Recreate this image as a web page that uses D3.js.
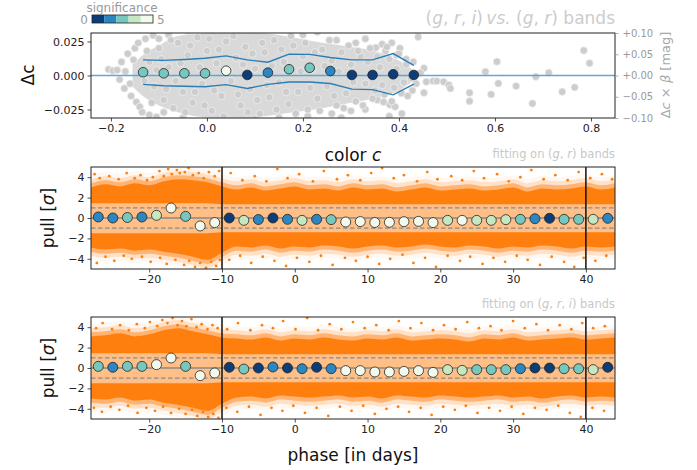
<!DOCTYPE html>
<html><head><meta charset="utf-8">
<script src="https://cdn.jsdelivr.net/npm/d3@7"></script>
<style>body{margin:0;background:#fff} text{font-family:"DejaVu Sans",sans-serif}</style>
</head><body><svg id="c" width="697" height="470"></svg>
<script>
// ---------- DATA ----------
const sigColors = ["#0b3e78","#2a87c1","#76c8be","#c6e8c1","#f2faee"];
const sigTicks = [0, 5];

// top panel: binned Δc vs colour
const colorBins  = [-0.133,-0.090,-0.047,-0.004,0.040,0.084,0.127,0.171,0.214,0.257,0.302,0.345,0.388,0.431];
const colorMeans = [0.0024,0.0016,0.0016,0.0016,0.0035,0.0004,0.0021,0.0046,0.0057,0.0033,0.0004,0.0004,0.0009,0.0004];
const colorSig   = [2.5,2.5,2.5,2.5,4.5,0.5,1.5,2.5,2.5,1.5,0.5,0.5,0.5,0.5];
const colorUpper = [0.0115,0.0111,0.0118,0.0127,0.0144,0.0115,0.0098,0.0157,0.0155,0.0132,0.0115,0.0115,0.0161,0.0075];
const colorLower = [-0.0065,-0.0075,-0.0079,-0.0083,-0.0067,-0.0095,-0.0065,-0.0048,-0.0048,-0.0059,-0.0100,-0.0104,-0.0142,-0.0063];

// grey cloud: dense core outline + individual SNe
const coreC   = [-0.155,-0.13,-0.10,-0.06,0.0,0.06,0.12,0.18,0.24,0.30,0.36,0.40,0.43];
const coreTop = [0.008,0.016,0.022,0.029,0.031,0.032,0.031,0.028,0.024,0.021,0.017,0.011,0.004];
const coreBot = [-0.008,-0.016,-0.022,-0.027,-0.031,-0.032,-0.030,-0.027,-0.024,-0.020,-0.016,-0.011,-0.004];
const greyPts = [
 [-0.205,0.0045],[-0.196,0.0035],[-0.187,0.0040],[-0.178,0.0100],[-0.170,0.0030],[-0.182,-0.0030],[-0.172,-0.0095],
 [-0.160,-0.0060],[-0.165,0.0160],[-0.153,0.0115],[-0.158,-0.0150],[-0.147,-0.0195],[-0.140,-0.0230],[-0.150,0.0200],
 [-0.143,0.0240],[-0.135,-0.0270],[-0.128,0.0270],[-0.120,-0.0290],[-0.112,0.0295],[-0.105,-0.0305],
 [0.352,0.0205],[0.365,0.0230],[0.372,0.0180],[0.385,0.0240],[0.395,0.0150],[0.402,0.0200],[0.415,0.0120],
 [0.430,0.0100],[0.440,0.0283],[0.452,0.0053],[0.457,-0.0046],[0.452,-0.0127],[0.471,-0.0041],[0.479,-0.0041],
 [0.493,-0.0046],[0.504,-0.0070],[0.507,-0.0095],[0.355,-0.0180],[0.368,-0.0195],[0.381,-0.0215],[0.392,-0.0230],
 [0.406,-0.0280],[0.418,-0.0150],[0.428,-0.0110],[0.436,-0.0060],[0.445,0.0020],
 [0.547,-0.0127],[0.547,-0.0189],[0.580,0.0028],[0.592,-0.0139],[0.604,0.0102],[0.607,-0.0058],[0.644,-0.0078],
 [0.678,-0.0206],[0.685,-0.0009],[0.712,0.0021],[0.740,-0.0120],[0.766,-0.0087],[0.785,0.0184],[0.797,0.0090],
 [-0.10,0.027],[-0.08,0.030],[-0.04,0.033],[0.02,0.034],[0.08,0.033],[0.14,0.034],[0.20,0.030],[0.23,0.032],
 [0.27,0.026],[0.31,0.024],[0.33,0.027],
 [-0.09,-0.027],[-0.05,-0.031],[0.00,-0.034],[0.05,-0.033],[0.10,-0.032],[0.15,-0.031],[0.21,-0.030],[0.26,-0.028],
 [0.30,-0.026],[0.33,-0.025],[0.28,-0.031],[0.38,-0.030],
 [-0.12,0.010],[-0.11,-0.008],[-0.10,0.020],[-0.09,-0.018],[-0.08,0.006],[-0.07,-0.024],[-0.06,0.024],[-0.05,-0.012],
 [-0.04,0.015],[-0.03,-0.020],[-0.02,0.028],[-0.01,-0.006],[0.00,0.018],[0.01,-0.026],[0.02,0.009],[0.03,-0.015],
 [0.04,0.025],[0.05,-0.004],[0.06,0.013],[0.07,-0.022],[0.08,0.021],[0.09,-0.010],[0.10,0.005],[0.11,-0.028],
 [0.12,0.017],[0.13,-0.016],[0.14,0.026],[0.15,-0.005],[0.16,0.010],[0.17,-0.021],[0.18,0.022],[0.19,-0.012],
 [0.20,0.014],[0.21,-0.025],[0.22,0.005],[0.23,-0.017],[0.24,0.019],[0.25,-0.008],[0.26,0.011],[0.27,-0.022],
 [0.28,0.017],[0.29,-0.013],[0.30,0.008],[0.31,-0.019],[0.32,0.014],[0.33,-0.006],[0.34,0.020],[0.35,-0.011],
 [0.36,0.006],[0.37,-0.014],[0.38,0.012],[0.39,-0.009],[0.40,0.016],[0.41,-0.005],
 [-0.13,-0.004],[-0.125,0.018],[-0.115,-0.020],[-0.105,0.004],[-0.095,0.012],[-0.085,-0.010],[-0.075,0.026],
 [-0.065,-0.004],[-0.055,0.009],[-0.045,-0.027],[-0.035,0.022],[-0.025,-0.012],[-0.015,0.006],[-0.005,-0.022],
 [0.005,0.027],[0.015,-0.011],[0.025,0.019],[0.035,-0.030],[0.045,0.004],[0.055,0.029],[0.065,-0.014],[0.075,0.008],
 [0.085,-0.027],[0.095,0.016],[0.105,-0.018],[0.115,0.024],[0.125,-0.007],[0.135,0.007],[0.145,-0.025],[0.155,0.019],
 [0.165,-0.012],[0.175,0.029],[0.185,-0.028],[0.195,0.003],[0.205,0.024],[0.215,-0.009],[0.225,0.017],[0.235,-0.026],
 [0.245,0.007],[0.255,0.026],[0.265,-0.015],[0.275,0.003],[0.285,-0.024],[0.295,0.022],[0.305,-0.005],[0.315,0.018],
 [0.325,-0.022],[0.335,0.010],[0.345,-0.017],[0.355,0.014],[0.365,-0.007],[0.375,0.021],[0.385,-0.019],[0.395,0.005],
 [0.405,-0.013],[0.415,0.008],[0.425,-0.002]
];

// lower panels: pull vs phase
const binPhase = [-27,-25,-23,-21,-19,-17,-15,-13,-11,-9,-7,-5,-3,-1,1,3,5,7,9,11,13,15,17,19,21,23,25,27,29,31,33,35,37,39,41,43];
const pullGR  = [0.10,0.00,0.05,0.10,0.26,0.98,0.16,-0.78,-0.45,0.00,-0.23,-0.15,0.00,-0.13,-0.23,-0.13,-0.16,-0.39,-0.35,-0.44,-0.42,-0.36,-0.33,-0.45,-0.23,-0.23,-0.23,-0.23,-0.16,-0.13,-0.07,-0.03,-0.13,-0.13,-0.13,-0.03];
const sigGR   = [1.5,1.5,2.5,1.5,3.5,4.5,2.5,4.5,4.5,0.5,3.5,1.5,0.5,1.5,3.5,1.5,2.5,4.5,4.5,4.5,4.5,4.5,4.5,4.5,3.5,4.5,3.5,3.5,3.5,2.5,1.5,0.5,2.5,2.5,3.5,1.5];
const pullGRI = [0.16,0.07,0.16,0.16,0.33,0.98,0.16,-0.75,-0.49,0.07,-0.10,0.00,0.10,0.00,-0.07,0.07,-0.07,-0.26,-0.26,-0.39,-0.39,-0.33,-0.26,-0.43,-0.16,-0.23,-0.16,-0.16,-0.16,-0.07,0.00,0.00,-0.07,-0.07,-0.16,0.07];
const sigGRI  = [2.5,1.5,2.5,2.5,4.5,4.5,2.5,4.5,4.5,0.5,2.5,0.5,1.5,0.5,1.5,0.5,1.5,4.5,4.5,4.5,4.5,4.5,4.5,4.5,3.5,3.5,2.5,2.5,2.5,1.5,0.5,0.5,2.5,2.5,3.5,0.5];

const envPhase = [-28,-26,-24,-22,-20,-18,-16,-14,-12,-10,-8,-6,-4,-2,0,2,4,6,8,10,12,14,16,18,20,22,24,26,28,30,32,34,36,38,40,42,44];
const upperGR  = [3.0,3.3,3.1,3.4,3.2,3.6,3.8,3.7,3.5,3.1,2.8,3.0,2.7,2.9,3.1,2.8,2.9,2.7,3.0,2.8,2.9,2.6,2.8,3.0,2.7,2.8,2.9,2.7,2.8,3.0,2.6,2.9,2.8,2.9,3.1,2.8,3.0];
const lowerGR  = [-2.9,-3.1,-3.0,-3.2,-3.1,-3.3,-3.5,-3.8,-4.1,-3.4,-2.8,-2.9,-2.7,-3.0,-2.8,-2.9,-2.7,-2.8,-3.0,-2.8,-2.7,-2.9,-2.8,-2.6,-2.8,-2.9,-2.7,-2.8,-3.0,-2.8,-2.9,-2.7,-2.8,-3.0,-2.8,-2.9,-2.8];
const upperGRI = [3.1,3.2,3.4,3.1,3.3,3.7,3.9,3.6,3.3,3.0,2.9,2.8,3.0,2.7,2.9,2.8,3.0,2.8,2.7,2.9,2.8,3.0,2.7,2.8,2.9,2.8,2.6,2.9,2.8,3.0,2.7,2.8,2.9,3.0,2.8,2.9,3.0];
const lowerGRI = [-3.0,-3.1,-2.9,-3.2,-3.1,-3.4,-3.6,-3.9,-4.2,-3.5,-2.9,-2.8,-3.0,-2.7,-2.8,-2.9,-2.8,-2.7,-2.9,-2.8,-3.0,-2.7,-2.8,-2.9,-2.7,-2.8,-2.9,-2.8,-2.7,-2.9,-2.8,-3.0,-2.8,-2.7,-2.9,-2.8,-2.9];

const outGR = [
 [-27.5,4.3],[-26.8,3.9],[-25.5,4.1],[-24.2,3.8],[-23.1,4.4],[-22,3.9],[-21.2,4.2],[-20.3,3.7],[-19.5,4.0],[-18.6,4.6],
 [-18,4.1],[-17.4,4.8],[-16.9,4.3],[-16.2,4.7],[-15.8,4.4],[-15.1,4.5],[-14.6,4.9],[-14,4.2],[-13.2,4.4],[-12.5,3.9],
 [-11.8,4.5],[-11,4.1],[-10.4,4.6],[-8.8,4.4],[-7.2,3.7],[-5.5,4.1],[-3.9,3.6],[-2.4,4.8],[-1,3.9],[0.6,4.3],[2.5,3.6],
 [4,4.6],[5.8,3.8],[7.3,4.2],[9,3.7],[10.5,4.4],[12,4.9],[13.6,3.9],[15,4.2],[16.8,3.6],[18.2,4.5],[19.6,3.8],[21.5,4.1],
 [23,3.7],[24.6,4.6],[26,3.9],[27.8,4.3],[29.4,3.6],[31,4.0],[32.5,4.7],[34.2,3.8],[35.8,4.2],[37.5,3.7],[39,4.5],
 [40.6,3.9],[42.2,4.3],[43.6,3.8],
 [-27.2,-4.4],[-26,-3.8],[-24.8,-4.2],[-23.5,-3.7],[-22.4,-4.0],[-21,-3.8],[-19.8,-4.3],[-18.5,-3.9],[-17.6,-4.5],
 [-16.4,-4.1],[-15.2,-4.6],[-14.5,-4.2],[-13.7,-4.8],[-13,-4.4],[-12.2,-4.9],[-11.5,-4.3],[-10.8,-4.7],[-10.3,-4.1],
 [-9,-4.1],[-7.5,-3.7],[-6,-4.4],[-4.4,-3.8],[-2.8,-4.2],[-1.2,-4.7],[0.3,-3.9],[2,-4.3],[3.6,-3.7],[5.2,-4.6],
 [6.9,-3.9],[8.4,-4.2],[10,-3.8],[11.6,-4.5],[13.1,-4.0],[14.8,-3.6],[16.3,-4.4],[17.9,-3.9],[19.4,-4.8],[21,-3.7],
 [22.7,-4.2],[24.1,-3.8],[25.8,-4.5],[27.3,-3.9],[28.9,-4.3],[30.5,-3.7],[32,-4.1],[33.7,-4.6],[35.3,-3.8],[37,-4.3],
 [38.4,-4.8],[39.7,-3.9],[41.3,-4.2],[42.8,-3.7]
];
const outGRI = [
 [-27.3,3.9],[-26.4,4.4],[-25.1,3.8],[-24,4.2],[-22.8,3.7],[-21.7,4.3],[-20.6,3.9],[-19.9,4.5],[-18.9,4.1],[-18.2,4.7],
 [-17.5,4.4],[-16.8,4.9],[-16.1,4.2],[-15.5,4.6],[-14.9,4.1],[-14.2,4.8],[-13.5,4.0],[-12.8,4.3],[-12,3.8],[-11.3,4.2],
 [-10.6,3.9],[-9.3,3.8],[-7.8,4.4],[-6.1,3.7],[-4.5,4.2],[-3,3.9],[-1.6,4.6],[0.1,3.8],[1.7,4.9],[3.2,3.7],[4.8,4.3],
 [6.4,3.8],[8,4.5],[9.6,3.9],[11.2,4.2],[12.9,3.7],[14.3,4.6],[15.9,3.9],[17.4,4.4],[19,3.7],[20.5,4.2],[22.1,3.8],
 [23.7,4.5],[25.3,3.9],[26.9,4.1],[28.4,3.7],[30,4.6],[31.6,3.9],[33.2,4.3],[34.8,3.7],[36.4,4.2],[38,3.8],[39.5,4.4],
 [41,3.9],[42.6,4.1],
 [-27.6,-3.9],[-26.5,-4.3],[-25.3,-3.8],[-24.1,-4.1],[-22.9,-3.7],[-21.6,-4.4],[-20.4,-3.9],[-19.2,-4.2],[-18.1,-3.8],
 [-17,-4.4],[-15.9,-4.0],[-15,-4.5],[-14.1,-4.1],[-13.4,-4.7],[-12.6,-4.3],[-11.9,-4.8],[-11.2,-4.5],[-10.5,-4.9],
 [-9.4,-3.9],[-7.9,-4.3],[-6.3,-3.8],[-4.7,-4.6],[-3.2,-3.9],[-1.7,-4.2],[-0.2,-3.7],[1.4,-4.4],[3,-3.9],[4.6,-4.7],
 [6.2,-3.8],[7.8,-4.2],[9.4,-3.7],[11,-4.5],[12.6,-4.0],[14.2,-3.8],[15.7,-4.3],[17.3,-3.9],[18.8,-4.6],[20.4,-3.8],
 [22,-4.1],[23.5,-3.7],[25.1,-4.4],[26.7,-3.9],[28.2,-4.2],[29.8,-3.8],[31.4,-4.5],[33,-3.9],[34.6,-4.1],[36.2,-3.7],
 [37.8,-4.4],[39.3,-4.8],[40.9,-3.9],[42.5,-4.2]
];

const topXTicks = [-0.2,0.0,0.2,0.4,0.6,0.8];
const topYTicks = [-0.025,0.0,0.025];
const topRTicks = [-0.10,-0.05,0.00,0.05,0.10];
const phaseTicks = [-20,-10,0,10,20,30,40];
const pullTicks = [-4,-2,0,2,4];
const phaseLines = [-10,40];

// ---------- DRAW ----------
const svg = d3.select("#c");
const L = 91, R = 615;
const sigColor = v => sigColors[Math.max(0, Math.min(4, Math.floor(v)))];
const fmtMinus = s => s.replace("-", "\u2212");

function styleAxis(g, color) {
  g.selectAll("path").remove();
  g.selectAll("line").attr("stroke", color || "#222").attr("stroke-width", 0.8);
  g.selectAll("text").attr("font-size", 11).attr("fill", color || "#222")
    .attr("font-family", "DejaVu Sans");
}

// ===== TOP PANEL =====
const xC = d3.scaleLinear().domain([-0.2415, 0.85]).range([L, R]);
const yD = d3.scaleLinear().domain([-0.03125, 0.03125]).range([118, 33]);
const yR = d3.scaleLinear().domain([-0.1, 0.1]).range([118, 33]);

svg.append("clipPath").attr("id", "clipTop").append("rect")
  .attr("x", L).attr("y", 33).attr("width", R - L).attr("height", 85);
const gt = svg.append("g").attr("clip-path", "url(#clipTop)");

const core = coreC.map((c, i) => ({c, t: coreTop[i], b: coreBot[i]}));
gt.append("path").datum(core)
  .attr("d", d3.area().x(d => xC(d.c)).y0(d => yD(d.b)).y1(d => yD(d.t)).curve(d3.curveMonotoneX))
  .attr("fill", "#d9d9d9");
gt.selectAll("circle.g").data(greyPts).join("circle")
  .attr("cx", d => xC(d[0])).attr("cy", d => yD(d[1])).attr("r", 3.7)
  .attr("fill", "#cdcdcd").attr("stroke", "#f2f2f2").attr("stroke-width", 0.7);

gt.append("line").attr("x1", L).attr("x2", R).attr("y1", yD(0)).attr("y2", yD(0))
  .attr("stroke", "#5aaad3").attr("stroke-width", 1.3);
const lineC = d3.line().x(d => xC(d[0])).y(d => yD(d[1]));
gt.append("path").datum(colorBins.map((c, i) => [c, colorUpper[i]])).attr("d", lineC)
  .attr("fill", "none").attr("stroke", "#2b7db6").attr("stroke-width", 1.4);
gt.append("path").datum(colorBins.map((c, i) => [c, colorLower[i]])).attr("d", lineC)
  .attr("fill", "none").attr("stroke", "#2b7db6").attr("stroke-width", 1.4);
gt.selectAll("circle.m").data(colorBins).join("circle")
  .attr("cx", d => xC(d)).attr("cy", (d, i) => yD(colorMeans[i])).attr("r", 4.8)
  .attr("fill", (d, i) => sigColor(colorSig[i])).attr("stroke", "#222").attr("stroke-width", 0.8);

svg.append("rect").attr("x", L).attr("y", 33).attr("width", R - L).attr("height", 85)
  .attr("fill", "none").attr("stroke", "#222").attr("stroke-width", 1);

svg.append("g").attr("transform", "translate(0,118)")
  .call(d3.axisBottom(xC).tickValues(topXTicks).tickSize(3.5).tickPadding(3).tickFormat(d => fmtMinus(d3.format(".1f")(d))))
  .call(g => styleAxis(g));
svg.append("g").attr("transform", `translate(${L},0)`)
  .call(d3.axisLeft(yD).tickValues(topYTicks).tickSize(3.5).tickPadding(3).tickFormat(d => fmtMinus(d3.format(".3f")(d))))
  .call(g => styleAxis(g));
svg.append("g").attr("transform", `translate(${R},0)`)
  .call(d3.axisRight(yR).tickValues(topRTicks).tickSize(3.5).tickPadding(4).tickFormat(d => (d >= 0 ? "+" : "") + d3.format(".2f")(d)))
  .call(g => styleAxis(g, "#9a9a9a"))
  .call(g => g.selectAll("text").attr("font-size", 10));

svg.append("text").attr("transform", "translate(34,75) rotate(-90)").attr("text-anchor", "middle")
  .attr("font-size", 17).attr("fill", "#111").text("Δc");
svg.append("text").attr("transform", "translate(670,75) rotate(-90)").attr("text-anchor", "middle")
  .attr("font-size", 13).attr("fill", "#a8a8a8")
  .html('Δ<tspan font-style="italic">c</tspan> × <tspan font-style="italic">β</tspan> [mag]');
svg.append("text").attr("x", 353).attr("y", 161).attr("text-anchor", "middle").attr("font-size", 17).attr("fill", "#111")
  .html('color <tspan font-style="italic">c</tspan>');
svg.append("text").attr("x", 615).attr("y", 24).attr("text-anchor", "end").attr("font-size", 17).attr("fill", "#cccccc")
  .html('(<tspan font-style="italic">g</tspan>, <tspan font-style="italic">r</tspan>, <tspan font-style="italic">i</tspan>)\u2009<tspan font-style="italic">vs.</tspan> (<tspan font-style="italic">g</tspan>, <tspan font-style="italic">r</tspan>) bands');

// colour bar
const cbx = d3.scaleLinear().domain([0, 5]).range([92, 153]);
svg.selectAll("rect.cb").data(sigColors).join("rect")
  .attr("x", (d, i) => cbx(i)).attr("y", 15).attr("width", (d, i) => cbx(i + 1) - cbx(i)).attr("height", 8)
  .attr("fill", d => d);
svg.append("rect").attr("x", 92).attr("y", 15).attr("width", 61).attr("height", 8)
  .attr("fill", "none").attr("stroke", "#222").attr("stroke-width", 0.8);
svg.append("text").attr("x", cbx(0) - 4).attr("y", 23.5).attr("text-anchor", "end").attr("font-size", 12).attr("fill", "#9a9a9a").text(sigTicks[0]);
svg.append("text").attr("x", cbx(5) + 4).attr("y", 23.5).attr("text-anchor", "start").attr("font-size", 12).attr("fill", "#9a9a9a").text(sigTicks[1]);
svg.append("text").attr("x", 122).attr("y", 12).attr("text-anchor", "middle").attr("font-size", 12).attr("fill", "#9a9a9a").text("significance");

// ===== PULL PANELS =====
const xP = d3.scaleLinear().domain([-28, 44]).range([L, R]);

function pullPanel(top, upper, lower, outs, pulls, sigs, subtitle, id) {
  const bot = top + 102;
  const y = d3.scaleLinear().domain([-5, 5]).range([bot, top]);
  svg.append("clipPath").attr("id", id).append("rect")
    .attr("x", L).attr("y", top).attr("width", R - L).attr("height", bot - top);
  const g = svg.append("g").attr("clip-path", `url(#${id})`);
  const env = envPhase.map((p, i) => ({p, u: upper[i], l: lower[i]}));
  const band = (du, op) => g.append("path").datum(env)
    .attr("d", d3.area().x(d => xP(d.p)).y0(d => y(d.l - du)).y1(d => y(d.u + du)).curve(d3.curveMonotoneX))
    .attr("fill", "#ff7f0e").attr("opacity", op);

  band(1.2, 0.06);   // faint outer shading
  band(0.8, 0.18);   // sparse fringe
  band(0.4, 0.45);
  band(0.0, 1.0);    // dense core
  g.selectAll("circle.o").data(outs).join("circle")
    .attr("cx", d => xP(d[0])).attr("cy", d => y(d[1])).attr("r", 1.4).attr("fill", "#ff7f0e");
  g.append("path").datum(env)
    .attr("d", d3.area().x(d => xP(d.p)).y0(d => y(d.p < -10 ? -1.5 : -1.4)).y1(d => y(d.p < -10 ? 1.45 : 1.35)))
    .attr("fill", "#ffffff").attr("opacity", 0.5);
  [-1, 1].forEach(v => g.append("line").attr("x1", L).attr("x2", R).attr("y1", y(v)).attr("y2", y(v))
    .attr("stroke", "#8c8c8c").attr("stroke-width", 1.2).attr("stroke-dasharray", "4.5,2.5"));
  g.append("line").attr("x1", L).attr("x2", R).attr("y1", y(0)).attr("y2", y(0))
    .attr("stroke", "#8a8a8a").attr("stroke-width", 1.4);
  phaseLines.forEach(p => g.append("line").attr("x1", xP(p)).attr("x2", xP(p)).attr("y1", top).attr("y2", bot)
    .attr("stroke", "#111").attr("stroke-width", 1.5));
  g.selectAll("circle.m").data(binPhase).join("circle")
    .attr("cx", d => xP(d)).attr("cy", (d, i) => y(pulls[i])).attr("r", 5)
    .attr("fill", (d, i) => sigColor(sigs[i])).attr("stroke", "#222").attr("stroke-width", 0.8);

  svg.append("rect").attr("x", L).attr("y", top).attr("width", R - L).attr("height", bot - top)
    .attr("fill", "none").attr("stroke", "#222").attr("stroke-width", 1);
  svg.append("g").attr("transform", `translate(0,${bot})`)
    .call(d3.axisBottom(xP).tickValues(phaseTicks).tickSize(3.5).tickPadding(3).tickFormat(d => fmtMinus(String(d))))
    .call(gg => styleAxis(gg));
  svg.append("g").attr("transform", `translate(${L},0)`)
    .call(d3.axisLeft(y).tickValues(pullTicks).tickSize(3.5).tickPadding(3).tickFormat(d => fmtMinus(String(d))))
    .call(gg => styleAxis(gg));
  svg.append("text").attr("transform", `translate(54,${(top + bot) / 2}) rotate(-90)`).attr("text-anchor", "middle")
    .attr("font-size", 17).attr("fill", "#111")
    .html('pull [<tspan font-style="italic">σ</tspan>]');
  svg.append("text").attr("x", 615).attr("y", top - 9).attr("text-anchor", "end").attr("font-size", 11.5)
    .attr("fill", "#c8c8c8").html(subtitle);
}

pullPanel(167, upperGR, lowerGR, outGR, pullGR, sigGR,
  'fitting on (<tspan font-style="italic">g</tspan>, <tspan font-style="italic">r</tspan>) bands', "clipA");
pullPanel(317, upperGRI, lowerGRI, outGRI, pullGRI, sigGRI,
  'fitting on (<tspan font-style="italic">g</tspan>, <tspan font-style="italic">r</tspan>, <tspan font-style="italic">i</tspan>) bands', "clipB");

svg.append("text").attr("x", 353).attr("y", 461).attr("text-anchor", "middle").attr("font-size", 17).attr("fill", "#111")
  .text("phase [in days]");
</script></body></html>
